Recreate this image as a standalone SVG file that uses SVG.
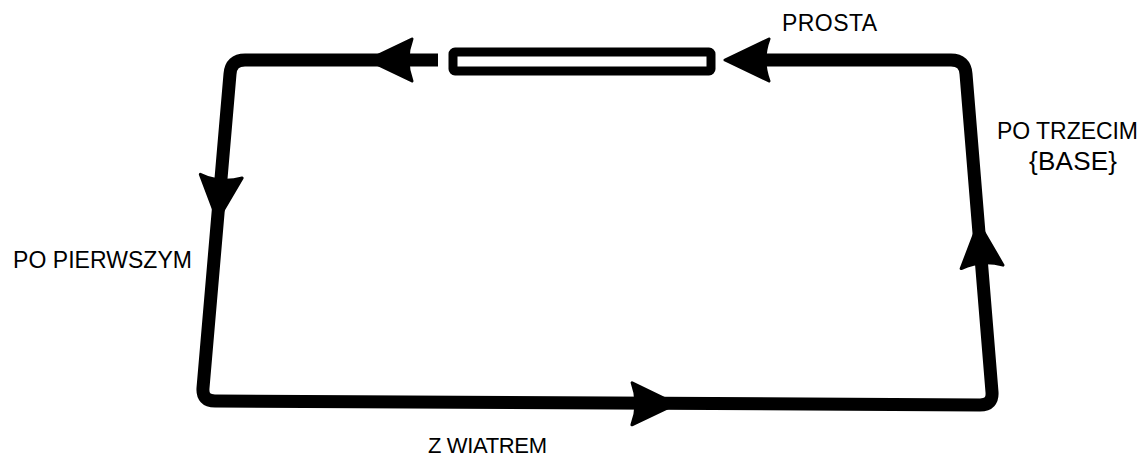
<svg xmlns="http://www.w3.org/2000/svg" width="1144" height="457" viewBox="0 0 1144 457">
<style>
.ln{fill:none;stroke:#000;stroke-width:13;stroke-linejoin:round;stroke-linecap:butt}
.lbl{font-family:"Liberation Sans",Arial,sans-serif;fill:#000;font-size:23px}
</style>
<defs>
<path id="ah" d="M0,0 L-44,-21 Q-36,0 -44,21 Z" fill="#000" stroke="#000" stroke-width="3" stroke-linejoin="round"/>
</defs>
<rect width="1144" height="457" fill="#fff"/>
<g id="connectors">
<path class="ln" d="M438,60 L245,60 Q231,60 230,74 L203,388 Q202,401 215,401 L980,405 Q993,405 992,392 L966,74 Q965,60 951,60 L740,60"/>
<use href="#ah" transform="translate(368,60) rotate(180)"/>
<use href="#ah" transform="translate(725,60) rotate(180)"/>
<use href="#ah" transform="translate(217.5,220) rotate(94.9)"/>
<use href="#ah" transform="translate(978.5,223) rotate(-94.7)"/>
<use href="#ah" transform="translate(676,404) rotate(0.3)"/>
</g>
<g id="prosta">
<rect x="453" y="52" width="258" height="19" rx="2" fill="#fff" stroke="#000" stroke-width="9"/>
<text class="lbl" x="782" y="31" textLength="95">PROSTA</text>
</g>
<g id="po-trzecim">
<text class="lbl" x="997" y="139" textLength="141">PO TRZECIM</text>
<text class="lbl" x="1029" y="170" style="font-size:26px" textLength="88">{BASE}</text>
</g>
<g id="po-pierwszym">
<text class="lbl" x="13" y="268" textLength="179">PO PIERWSZYM</text>
</g>
<g id="z-wiatrem">
<text class="lbl" x="428" y="453" style="font-size:22px" textLength="119">Z WIATREM</text>
</g>
</svg>
